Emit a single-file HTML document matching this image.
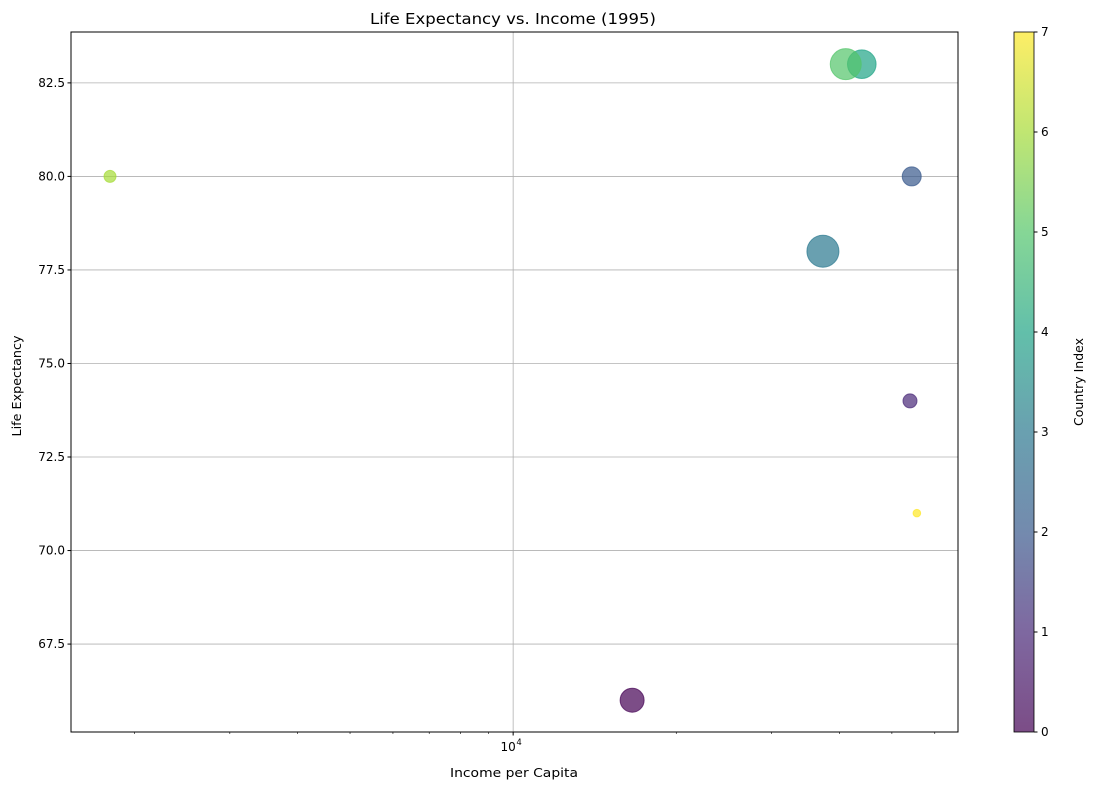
<!DOCTYPE html>
<html><head><meta charset="utf-8"><style>
body{margin:0;background:#fff;font-family:"Liberation Sans","DejaVu Sans",sans-serif}
svg text{font-family:"DejaVu Sans","Liberation Sans",sans-serif;fill:#000}
</style></head><body>
<svg id="chart" width="1096" height="790" viewBox="0 0 1096 790" xmlns="http://www.w3.org/2000/svg">
<defs>
<linearGradient id="vir" x1="0" y1="1" x2="0" y2="0">
<stop offset="0" stop-color="#440154"/><stop offset="0.143" stop-color="#482878"/><stop offset="0.286" stop-color="#38598c"/><stop offset="0.429" stop-color="#2a788e"/><stop offset="0.571" stop-color="#20a486"/><stop offset="0.714" stop-color="#52c569"/><stop offset="0.857" stop-color="#a5db36"/><stop offset="1" stop-color="#fde725"/>
</linearGradient>
</defs>
<text x="513" y="24" text-anchor="middle" font-size="15" textLength="286" lengthAdjust="spacingAndGlyphs">Life Expectancy vs. Income (1995)</text>
<g id="grid"></g>
<g id="points"></g>
<rect x="71" y="32" width="887" height="700" fill="none" stroke="#000" stroke-width="1"/>
<g id="axes"></g>
<text x="514" y="777" text-anchor="middle" font-size="12.5" textLength="128" lengthAdjust="spacingAndGlyphs">Income per Capita</text>
<text transform="translate(21,386) rotate(-90)" text-anchor="middle" font-size="12.5" textLength="101" lengthAdjust="spacingAndGlyphs">Life Expectancy</text>
<rect x="1014" y="32" width="20" height="700" fill="url(#vir)" fill-opacity="0.7" stroke="#000" stroke-width="0.8"/>
<g id="cbar"></g>
<text transform="translate(1083,382) rotate(-90)" text-anchor="middle" font-size="12.5">Country Index</text>
</svg>
<script>
const countryIndex=[0,1,2,3,4,5,6,7];
const income=[16580,54000,54400,37300,44000,41100,1803,55600];
const lifeExp=[66.0,74.0,80.0,78.0,83.0,83.0,80.0,71.0];
const bubbleRadius=[12,7,9.5,16,14.3,15.5,6,3.8];
const yTicks=[67.5,70.0,72.5,75.0,77.5,80.0,82.5];
const cbTicks=[0,1,2,3,4,5,6,7];
const colors=["#440154","#482878","#38598c","#2a788e","#20a486","#52c569","#a5db36","#fde725"];
const NS="http://www.w3.org/2000/svg";
const X0=71,X1=958,Y0=32,Y1=732;
const lxMin=3.184,lxMax=4.821,yMin=65.15,yMax=83.86;
function xs(v){return X0+(Math.log10(v)-lxMin)/(lxMax-lxMin)*(X1-X0);}
function ys(v){return Y1-(v-yMin)/(yMax-yMin)*(Y1-Y0);}
function cs(v){return 732-v/7*700;}
function mk(tag,attrs,parent){const e=document.createElementNS(NS,tag);for(const k in attrs)e.setAttribute(k,attrs[k]);parent.appendChild(e);return e;}
const grid=document.getElementById('grid'),axes=document.getElementById('axes'),pts=document.getElementById('points'),cb=document.getElementById('cbar');
yTicks.forEach(t=>{const y=ys(t);
const g=mk('line',{x1:X0,x2:X1,y1:y,y2:y,stroke:'#b0b0b0','stroke-width':0.8},grid);


mk('line',{x1:X0-3.5,x2:X0,y1:y,y2:y,stroke:'#000'},axes);
const l=mk('text',{x:X0-6,y:y+4,'text-anchor':'end','font-size':12},axes);l.textContent=t.toFixed(1);


});
const xg=mk('line',{x1:xs(1e4),x2:xs(1e4),y1:Y0,y2:Y1,stroke:'#b0b0b0','stroke-width':0.8},grid);


mk('line',{x1:xs(1e4),x2:xs(1e4),y1:Y1,y2:Y1+3.5,stroke:'#000'},axes);
[2e3,3e3,4e3,5e3,6e3,7e3,8e3,9e3,2e4,3e4,4e4,5e4,6e4].forEach(v=>{const x=xs(v);mk('line',{x1:x,x2:x,y1:Y1,y2:Y1+2,stroke:'#000','stroke-width':0.6},axes);});
const xl=mk('text',{x:xs(1e4)-5,y:Y1+19,'text-anchor':'middle','font-size':12},axes);xl.textContent='10';


const xe=mk('text',{x:xs(1e4)+6,y:Y1+13,'text-anchor':'middle','font-size':8.5},axes);xe.textContent='4';
countryIndex.forEach((c,i)=>{
const p=mk('circle',{cx:xs(income[i]),cy:ys(lifeExp[i]),r:bubbleRadius[i],fill:colors[c],'fill-opacity':0.7,stroke:colors[c],'stroke-opacity':0.7,'stroke-width':1},pts);


});
cbTicks.forEach(t=>{const y=cs(t);
mk('line',{x1:1034,x2:1037.5,y1:y,y2:y,stroke:'#000'},cb);
const l=mk('text',{x:1041,y:y+4,'font-size':12},cb);l.textContent=t;


});
</script>
</body></html>
